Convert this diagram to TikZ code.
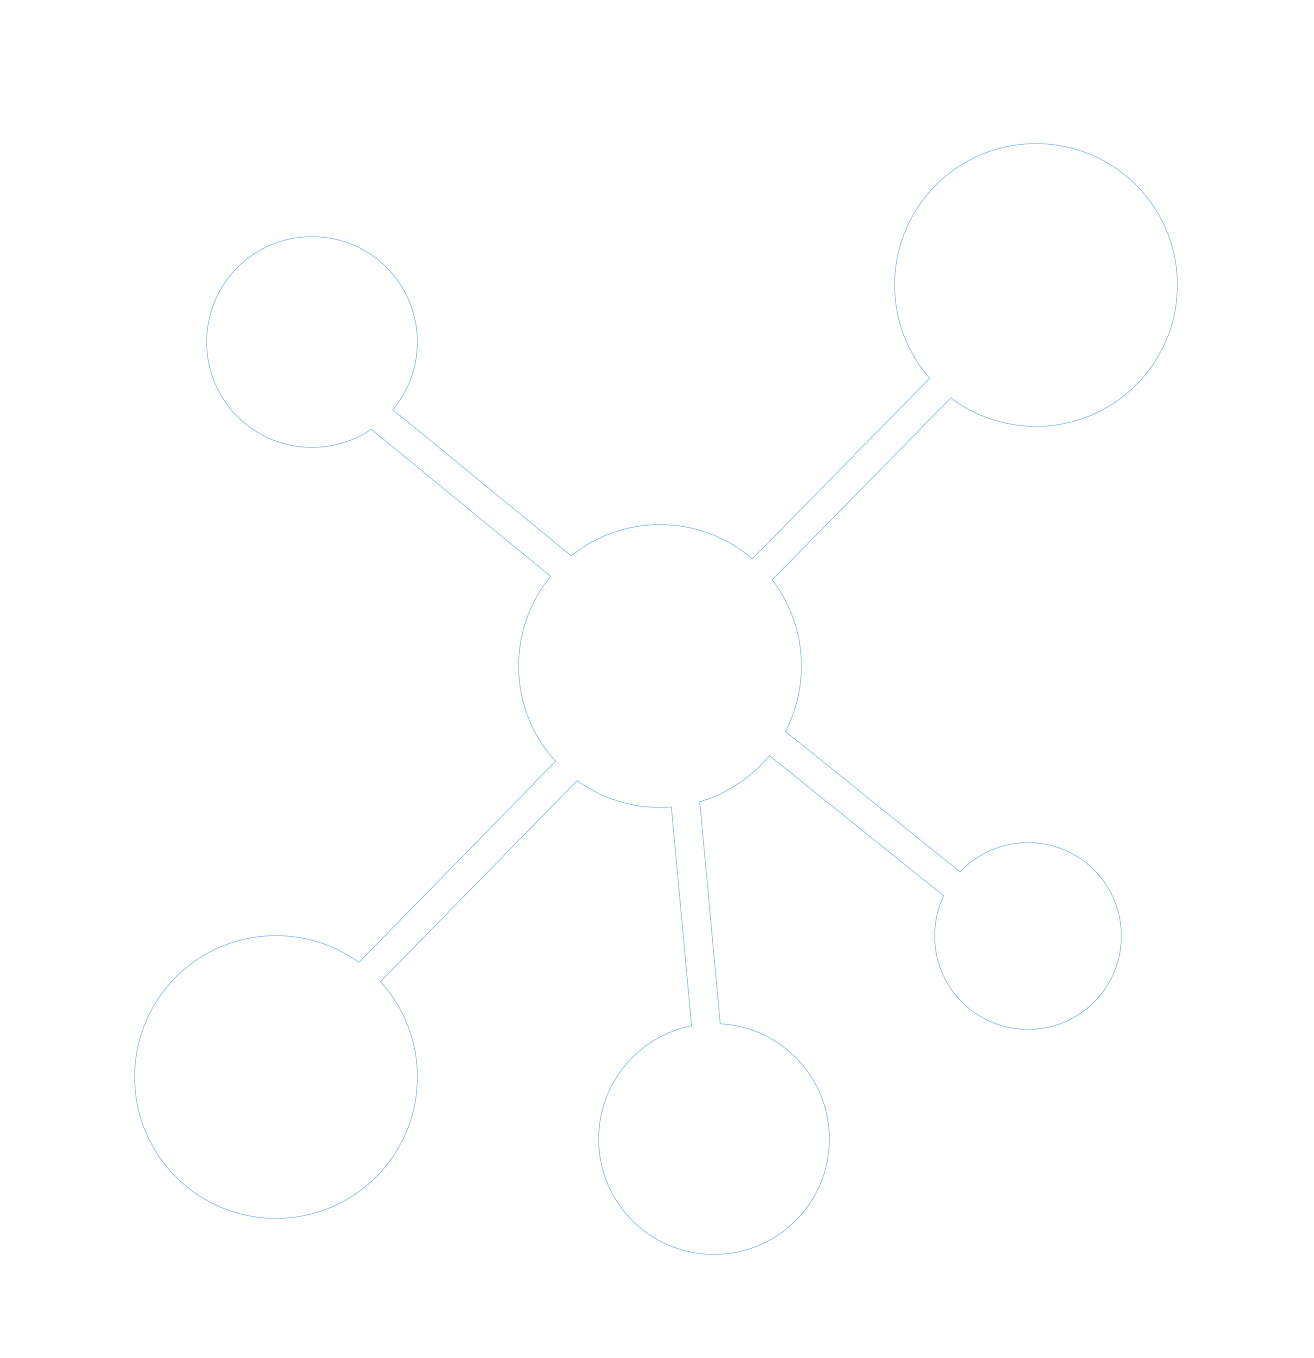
\documentclass[tikz,border=0pt]{standalone}
\definecolor{edgeblue}{RGB}{120,185,235}
\begin{document}
\begin{tikzpicture}[x=1pt,y=-1pt,
  rimc/.style={fill=edgeblue},
  rimb/.style={draw=edgeblue,line width=29.4pt},
  bodyc/.style={fill=white},
  bodyb/.style={draw=white,line width=28pt}]
\useasboundingbox[fill=white] (0,0) rectangle (1314,1358);
% centres
\coordinate (C) at (660,666);
\coordinate (TL) at (312,342);
\coordinate (TR) at (1036,285);
\coordinate (BL) at (276,1077);
\coordinate (B) at (714,1139);
\coordinate (R) at (1028,936);
% bar ends
\coordinate (tl1) at (329,376);   \coordinate (tl2) at (614.5,610);
\coordinate (tr1) at (993,334.5); \coordinate (tr2) at (710,622.5);
\coordinate (r1) at (727,703);    \coordinate (r2) at (1003,925);
\coordinate (bl1) at (625,711);   \coordinate (bl2) at (311,1032);
\coordinate (b1) at (679,733);    \coordinate (b2) at (712,1091);
% rim layer
\fill[rimc] (C) circle (141.7);
\fill[rimc] (TL) circle (105.7);
\fill[rimc] (TR) circle (141.7);
\fill[rimc] (BL) circle (141.7);
\fill[rimc] (B) circle (115.7);
\fill[rimc] (R) circle (93.7);
\draw[rimb] (tl1) -- (tl2);
\draw[rimb] (tr1) -- (tr2);
\draw[rimb] (r1) -- (r2);
\draw[rimb] (bl1) -- (bl2);
\draw[rimb] (b1) -- (b2);
% body layer
\fill[bodyc] (C) circle (141);
\fill[bodyc] (TL) circle (105);
\fill[bodyc] (TR) circle (141);
\fill[bodyc] (BL) circle (141);
\fill[bodyc] (B) circle (115);
\fill[bodyc] (R) circle (93);
\draw[bodyb] (tl1) -- (tl2);
\draw[bodyb] (tr1) -- (tr2);
\draw[bodyb] (r1) -- (r2);
\draw[bodyb] (bl1) -- (bl2);
\draw[bodyb] (b1) -- (b2);
\end{tikzpicture}
\end{document}
